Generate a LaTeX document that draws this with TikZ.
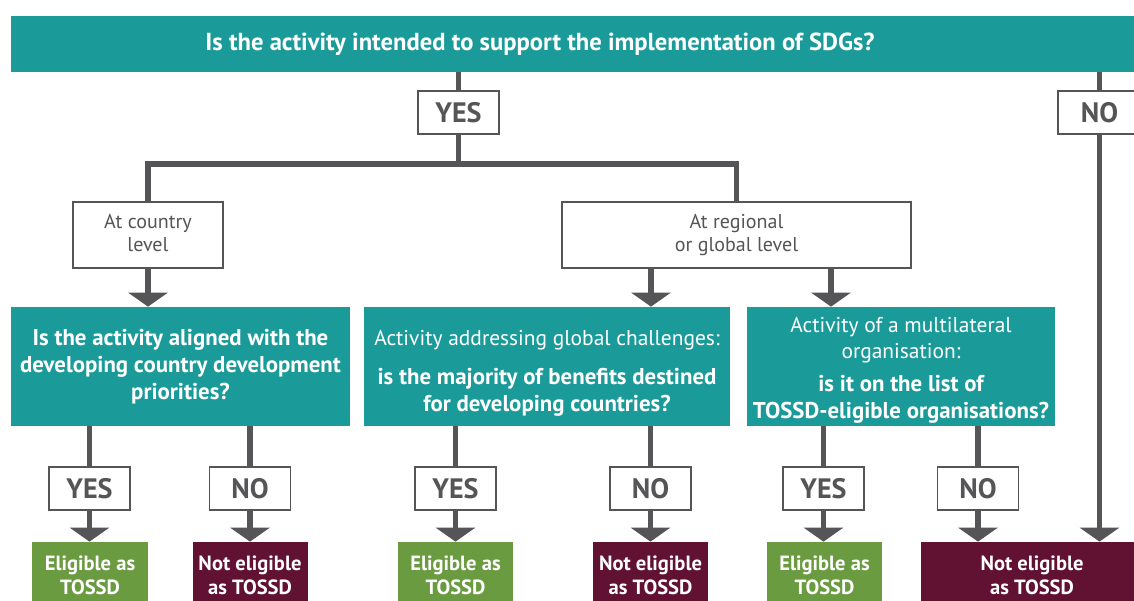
\documentclass[tikz,border=0pt]{standalone}
\usepackage{fontspec}
\setmainfont{PT Sans}
\usetikzlibrary{arrows.meta}
\definecolor{tossdteal}{RGB}{27,154,154}
\definecolor{tossdgreen}{RGB}{106,155,64}
\definecolor{tossdwine}{RGB}{97,18,50}
\definecolor{tossdgray}{RGB}{85,85,87}
\newcommand\qstrong{\fontsize{13}{15.3}\selectfont\bfseries}

\begin{document}
\begin{tikzpicture}[x=0.2mm, y=-0.2mm,
  link/.style={draw=tossdgray, line width=1.1mm},
  flow/.style={link, -{Triangle[width=7.8mm,length=2.8mm]}},
  question/.style={fill=tossdteal, text=white, align=center, inner sep=0pt,
    minimum height=23.8mm, font=\fontsize{12.2}{15.3}\selectfont},
  answer/.style={draw=tossdgray, line width=0.35mm, fill=white, text=tossdgray,
    minimum width=16.2mm, minimum height=8.6mm, inner sep=0pt,
    font=\fontsize{16}{18}\selectfont\bfseries},
  level/.style={draw=tossdgray, line width=0.35mm, fill=white, text=tossdgray,
    align=center, minimum height=13.2mm, inner sep=0pt,
    font=\fontsize{11.4}{13}\selectfont},
  eligible/.style={fill=tossdgreen, text=white, align=center, inner sep=0pt,
    minimum width=23mm, minimum height=13.2mm,
    font=\fontsize{11.7}{13.6}\selectfont\bfseries},
  noteligible/.style={eligible, fill=tossdwine}]

  \useasboundingbox (0,0) rectangle (1134,601);

  \node[fill=tossdteal, minimum width=224.6mm, minimum height=11.2mm, inner sep=0pt] (banner) at (572.5,44) {};
  \node[text=white, font=\fontsize{14}{16}\selectfont\bfseries] (bannertext) at (540,44)
    {Is the activity intended to support the implementation of SDGs?};

  \node[answer] (yes0) at (458.5,112.5) {YES};
  \node[answer, minimum width=16.6mm] (no0) at (1099.5,112.5) {NO};

  \node[level, minimum width=30mm] (country) at (148,235) {At country\\level\vphantom{g}};
  \node[level, minimum width=69.8mm] (regional) at (736.5,235) {At regional\\or global level};

  \node[question, minimum width=67.8mm] (q1) at (180.5,366.5)
    {\qstrong Is the activity aligned with the\\\qstrong developing country development\\\qstrong priorities?};
  \node[question, minimum width=73.2mm] (q2) at (547,366.5)
    {\rule{0pt}{16pt}Activity addressing global challenges:\\[7pt]\qstrong is the majority of benefits destined\\\qstrong for developing countries?};
  \node[question, minimum width=61.6mm] (q3) at (901,366.5)
    {\rule{0pt}{12.5pt}Activity of a multilateral\\organisation:\\[3pt]\qstrong is it on the list of\\\qstrong TOSSD-eligible organisations?};

  \node[answer] (y1) at (89.5,488.5) {YES};
  \node[answer] (n1) at (250,488.5) {NO};
  \node[answer] (y2) at (455.5,488.5) {YES};
  \node[answer] (n2) at (650.5,488.5) {NO};
  \node[answer] (y3) at (823.5,488.5) {YES};
  \node[answer] (n3) at (978,488.5) {NO};

  \node[eligible] (e1) at (90,575) {Eligible as\\TOSSD};
  \node[noteligible] (ne1) at (250,575) {Not eligible\\as TOSSD};
  \node[eligible] (e2) at (455.5,575) {Eligible as\\TOSSD};
  \node[noteligible] (ne2) at (650.5,575) {Not eligible\\as TOSSD};
  \node[eligible] (e3) at (824.5,575) {Eligible as\\TOSSD};
  \node[noteligible, minimum width=44.4mm] (ne3) at (1032,575) {Not eligible\\as TOSSD};

  \coordinate (split) at (458.5,164);
  \draw[link] (yes0.north |- banner.south) -- (yes0.north);
  \draw[link] (yes0.south) -- (split);
  \draw[link] (country.north) |- (split) -| (regional.north);
  \draw[link] (no0.north |- banner.south) -- (no0.north);
  \draw[flow] (no0.south) -- (no0.south |- ne3.north);

  \draw[flow] (country.south) -- (country.south |- q1.north);
  \draw[flow] ([xshift=-17.1mm]regional.south) -- ([xshift=-17.1mm]regional.south |- q2.north);
  \draw[flow] ([xshift=18.9mm]regional.south) -- ([xshift=18.9mm]regional.south |- q3.north);

  \draw[link] (q1.south -| y1) -- (y1.north);
  \draw[flow] (y1.south) -- (y1.south |- e1.north);
  \draw[link] (q1.south -| n1) -- (n1.north);
  \draw[flow] (n1.south) -- (n1.south |- ne1.north);

  \draw[link] (q2.south -| y2) -- (y2.north);
  \draw[flow] (y2.south) -- (y2.south |- e2.north);
  \draw[link] (q2.south -| n2) -- (n2.north);
  \draw[flow] (n2.south) -- (n2.south |- ne2.north);

  \draw[link] (q3.south -| y3) -- (y3.north);
  \draw[flow] (y3.south) -- (y3.south |- e3.north);
  \draw[link] (q3.south -| n3) -- (n3.north);
  \draw[flow] (n3.south) -- (n3.south |- ne3.north);
\end{tikzpicture}
\end{document}
